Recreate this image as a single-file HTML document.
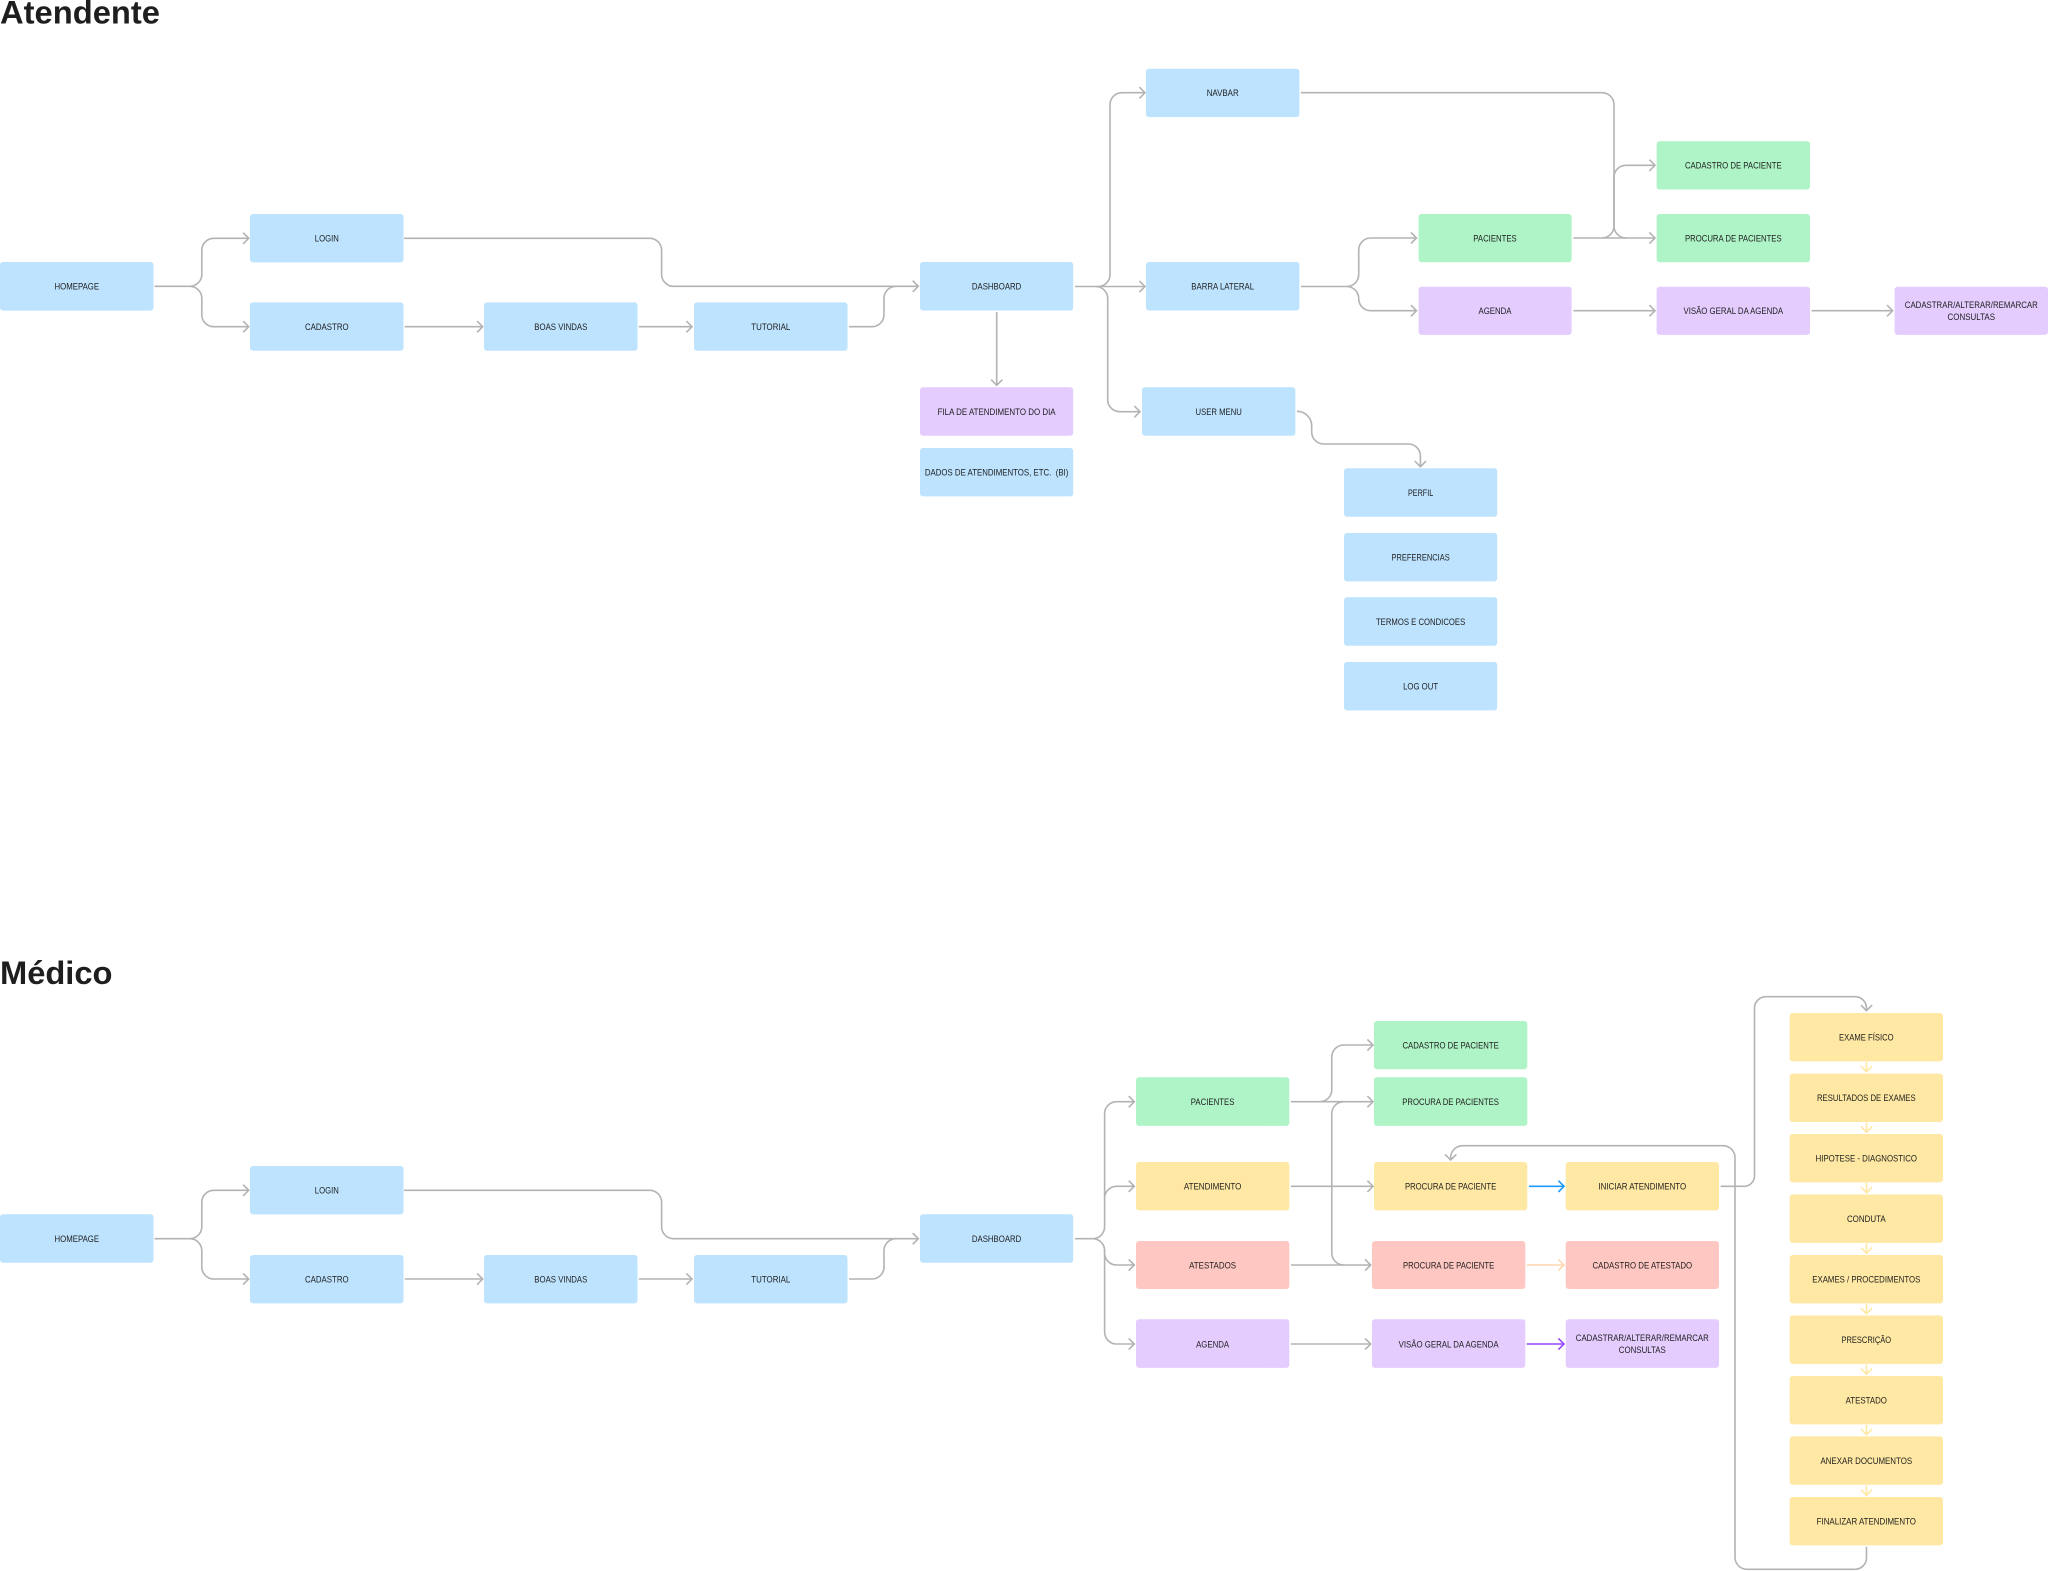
<!DOCTYPE html>
<html lang="pt"><head><meta charset="utf-8"><title>Fluxos</title>
<style>
html,body{margin:0;padding:0;background:#fff;width:2048px;height:1571px;overflow:hidden}
svg{display:block}
text{font-family:"Liberation Sans",sans-serif;fill:#1e1e1e}
.l{font-size:9.3px;text-anchor:middle;white-space:pre}
.t{font-size:32.5px;font-weight:700}
.c{fill:none;stroke:#b3b3b3;stroke-width:1.6;marker-end:url(#g)}
.n{fill:none;stroke:#b3b3b3;stroke-width:1.6}
.y{fill:none;stroke:#ffe8a3;stroke-width:1.6;marker-end:url(#my)}
.b{fill:#bde3ff}.v{fill:#e4ccff}.e{fill:#aff4c6}.a{fill:#ffe8a3}.r{fill:#ffc7c2}
</style></head><body>
<svg xmlns="http://www.w3.org/2000/svg" width="2048" height="1571" viewBox="0 0 2048 1571">
<defs>
<marker id="g" markerUnits="userSpaceOnUse" markerWidth="14" markerHeight="14" refX="8" refY="7" orient="auto"><path d="M2.4 1.4L8 7L2.4 12.6" fill="none" stroke="#b3b3b3" stroke-width="1.6"/></marker>
<marker id="my" markerUnits="userSpaceOnUse" markerWidth="14" markerHeight="14" refX="8" refY="7" orient="auto"><path d="M2.4 1.4L8 7L2.4 12.6" fill="none" stroke="#ffe8a3" stroke-width="1.6"/></marker>
<marker id="mb" markerUnits="userSpaceOnUse" markerWidth="14" markerHeight="14" refX="8" refY="7" orient="auto"><path d="M2.4 1.4L8 7L2.4 12.6" fill="none" stroke="#1e9bff" stroke-width="1.6"/></marker>
<marker id="mp" markerUnits="userSpaceOnUse" markerWidth="14" markerHeight="14" refX="8" refY="7" orient="auto"><path d="M2.4 1.4L8 7L2.4 12.6" fill="none" stroke="#ffd6ae" stroke-width="1.6"/></marker>
<marker id="mv" markerUnits="userSpaceOnUse" markerWidth="14" markerHeight="14" refX="8" refY="7" orient="auto"><path d="M2.4 1.4L8 7L2.4 12.6" fill="none" stroke="#9747ff" stroke-width="1.6"/></marker>
</defs>
<rect width="2048" height="1571" fill="#fff"/>

<text class="t" x="0" y="23.3" textLength="160" lengthAdjust="spacingAndGlyphs">Atendente</text>
<text class="t" x="0" y="984" textLength="112.5" lengthAdjust="spacingAndGlyphs">Médico</text>

<!-- Atendente connectors -->
<path class="c" d="M154.5 286.3H190A12 12 0 0 0 201.8 274V250A12 12 0 0 1 214 238.3H248.7"/>
<path class="c" d="M190 286.3A12 12 0 0 1 201.8 298V315A12 12 0 0 0 214 326.7H248.7"/>
<path class="c" d="M404 238.3H650A12 12 0 0 1 661.6 250V274.5A12 12 0 0 0 674 286.3H918.3"/>
<path class="c" d="M404.8 326.7H482.7"/>
<path class="c" d="M638.8 326.7H692"/>
<path class="n" d="M849 326.7H872A12 12 0 0 0 884 315V298A12 12 0 0 1 896 286.3"/>
<path class="c" d="M1075 286.5H1145"/>
<path class="c" d="M1098 286.5A12 12 0 0 0 1110 274V105A12 12 0 0 1 1122 92.7H1145"/>
<path class="c" d="M1096 286.5A12 12 0 0 1 1107.7 298V399.5A12 12 0 0 0 1120 411.7H1140"/>
<path class="c" d="M996.7 312V385.3"/>
<path class="c" d="M1297 411.3A14.7 14.7 0 0 1 1311.7 426V432A12 12 0 0 0 1324 444H1408A12 12 0 0 1 1420.4 456V466.7"/>
<path class="n" d="M1301 92.7H1602A12 12 0 0 1 1614 105V226A12 12 0 0 0 1626 238"/>
<path class="c" d="M1573.5 238H1655"/>
<path class="c" d="M1602 238A12 12 0 0 0 1614 226V177A12 12 0 0 1 1626 165.3H1655"/>
<path class="c" d="M1301 286.5H1347A12 12 0 0 0 1358.7 274.5V250A12 12 0 0 1 1371 238H1416.5"/>
<path class="c" d="M1347 286.5A12 12 0 0 1 1358.7 298V299A12 12 0 0 0 1371 310.7H1416.5"/>
<path class="c" d="M1573.5 310.7H1655"/>
<path class="c" d="M1811.6 310.7H1892.6"/>

<!-- Atendente nodes -->
<g>
<rect class="b" x="0" y="262" width="153.5" height="48.6" rx="3"/>
<rect class="b" x="250" y="214" width="153.5" height="48.4" rx="3"/>
<rect class="b" x="250" y="302.4" width="153.5" height="48.4" rx="3"/>
<rect class="b" x="484" y="302.4" width="153.5" height="48.4" rx="3"/>
<rect class="b" x="694" y="302.4" width="153.5" height="48.4" rx="3"/>
<rect class="b" x="920" y="262" width="153.2" height="48.5" rx="3"/>
<rect class="b" x="1146" y="68.7" width="153.4" height="48.4" rx="3"/>
<rect class="b" x="1146" y="262" width="153.4" height="48.5" rx="3"/>
<rect class="b" x="1142" y="387.3" width="153.4" height="48.4" rx="3"/>
<rect class="v" x="920" y="387.3" width="153.2" height="48.4" rx="3"/>
<rect class="b" x="920" y="448" width="153.2" height="48.4" rx="3"/>
<rect class="b" x="1344" y="468.3" width="153.2" height="48.4" rx="3"/>
<rect class="b" x="1344" y="533" width="153.2" height="48.4" rx="3"/>
<rect class="b" x="1344" y="597.3" width="153.2" height="48.4" rx="3"/>
<rect class="b" x="1344" y="662" width="153.2" height="48.4" rx="3"/>
<rect class="e" x="1418.6" y="214" width="153" height="48.2" rx="3"/>
<rect class="v" x="1418.6" y="286.7" width="153" height="48.2" rx="3"/>
<rect class="e" x="1656.6" y="141.3" width="153.4" height="48.2" rx="3"/>
<rect class="e" x="1656.6" y="214" width="153.4" height="48.2" rx="3"/>
<rect class="v" x="1656.6" y="286.7" width="153.4" height="48.2" rx="3"/>
<rect class="v" x="1894.6" y="286.7" width="153.4" height="48.2" rx="3"/>
</g>
<g>
<text class="l" x="76.8" y="289.6" textLength="44.6" lengthAdjust="spacingAndGlyphs">HOMEPAGE</text>
<text class="l" x="326.8" y="241.5" textLength="24" lengthAdjust="spacingAndGlyphs">LOGIN</text>
<text class="l" x="326.8" y="330" textLength="43.7" lengthAdjust="spacingAndGlyphs">CADASTRO</text>
<text class="l" x="560.8" y="330" textLength="53" lengthAdjust="spacingAndGlyphs">BOAS VINDAS</text>
<text class="l" x="770.8" y="330" textLength="39" lengthAdjust="spacingAndGlyphs">TUTORIAL</text>
<text class="l" x="996.6" y="289.6" textLength="49.4" lengthAdjust="spacingAndGlyphs">DASHBOARD</text>
<text class="l" x="1222.7" y="96" textLength="32" lengthAdjust="spacingAndGlyphs">NAVBAR</text>
<text class="l" x="1222.7" y="289.6" textLength="62.8" lengthAdjust="spacingAndGlyphs">BARRA LATERAL</text>
<text class="l" x="1218.7" y="414.8" textLength="46.3" lengthAdjust="spacingAndGlyphs">USER MENU</text>
<text class="l" x="996.6" y="414.8" textLength="118" lengthAdjust="spacingAndGlyphs">FILA DE ATENDIMENTO DO DIA</text>
<text class="l" x="996.6" y="475.5" textLength="143.5" lengthAdjust="spacingAndGlyphs">DADOS DE ATENDIMENTOS, ETC.  (BI)</text>
<text class="l" x="1420.6" y="495.8" textLength="25.3" lengthAdjust="spacingAndGlyphs">PERFIL</text>
<text class="l" x="1420.6" y="560.3" textLength="58.3" lengthAdjust="spacingAndGlyphs">PREFERENCIAS</text>
<text class="l" x="1420.6" y="624.8" textLength="89.3" lengthAdjust="spacingAndGlyphs">TERMOS E CONDICOES</text>
<text class="l" x="1420.6" y="689.3" textLength="35" lengthAdjust="spacingAndGlyphs">LOG OUT</text>
<text class="l" x="1495" y="241.4" textLength="43.4" lengthAdjust="spacingAndGlyphs">PACIENTES</text>
<text class="l" x="1495" y="314" textLength="33" lengthAdjust="spacingAndGlyphs">AGENDA</text>
<text class="l" x="1733.3" y="168.7" textLength="96.7" lengthAdjust="spacingAndGlyphs">CADASTRO DE PACIENTE</text>
<text class="l" x="1733.3" y="241.4" textLength="96.7" lengthAdjust="spacingAndGlyphs">PROCURA DE PACIENTES</text>
<text class="l" x="1733.3" y="314" textLength="99.6" lengthAdjust="spacingAndGlyphs">VISÃO GERAL DA AGENDA</text>
<text class="l" x="1971.3" y="308" textLength="133" lengthAdjust="spacingAndGlyphs">CADASTRAR/ALTERAR/REMARCAR</text>
<text class="l" x="1971.3" y="320" textLength="47.5" lengthAdjust="spacingAndGlyphs">CONSULTAS</text>
</g>

<!-- Médico connectors -->
<path class="c" d="M154.5 1238.7H190A12 12 0 0 0 201.8 1227V1202A12 12 0 0 1 214 1190.3H248.7"/>
<path class="c" d="M190 1238.7A12 12 0 0 1 201.8 1250V1267A12 12 0 0 0 214 1279H248.7"/>
<path class="c" d="M404 1190.3H650A12 12 0 0 1 661.6 1202V1227A12 12 0 0 0 674 1238.7H918.3"/>
<path class="c" d="M404.8 1279H482.7"/>
<path class="c" d="M638.8 1279H692"/>
<path class="n" d="M849 1279H872A12 12 0 0 0 884 1267V1250A12 12 0 0 1 896 1238.7"/>
<path class="c" d="M1075 1238.7H1093A12 12 0 0 0 1104.6 1227V1114A12 12 0 0 1 1117 1101.7H1134.3"/>
<path class="c" d="M1104.6 1198A12 12 0 0 1 1117 1186.3H1134.3"/>
<path class="c" d="M1093 1238.7A12 12 0 0 1 1104.6 1250V1253A12 12 0 0 0 1117 1265H1134.3"/>
<path class="c" d="M1104.6 1250V1332A12 12 0 0 0 1117 1344H1134.3"/>
<path class="c" d="M1291 1101.7H1373"/>
<path class="c" d="M1320 1101.7A12 12 0 0 0 1331.8 1090V1057A12 12 0 0 1 1344 1045H1373"/>
<path class="n" d="M1344 1101.7A12 12 0 0 0 1331.8 1114V1253A12 12 0 0 0 1344 1265"/>
<path class="c" d="M1291 1186.3H1373"/>
<path class="c" d="M1291 1265H1370.7"/>
<path class="c" d="M1291 1344H1370.7"/>
<path fill="none" stroke="#1e9bff" stroke-width="1.6" marker-end="url(#mb)" d="M1529 1186.3H1564"/>
<path fill="none" stroke="#ffd6ae" stroke-width="1.6" marker-end="url(#mp)" d="M1526.7 1265H1564"/>
<path fill="none" stroke="#9747ff" stroke-width="1.6" marker-end="url(#mv)" d="M1526.7 1344H1564"/>
<path class="c" d="M1720.7 1186.3H1744A10.5 10.5 0 0 0 1754.5 1176V1008A11.5 11.5 0 0 1 1766 996.7H1855A11.5 11.5 0 0 1 1866.5 1008V1010.7"/>
<path class="c" d="M1866.5 1546.7V1558A11.5 11.5 0 0 1 1855 1569.3H1747A12 12 0 0 1 1735 1558V1158A12 12 0 0 0 1723 1145.7H1463A12 12 0 0 0 1450.7 1158V1160"/>
<path class="y" d="M1866.5 1062V1071.7"/>
<path class="y" d="M1866.5 1122.5V1132.2"/>
<path class="y" d="M1866.5 1183V1192.7"/>
<path class="y" d="M1866.5 1243.5V1253.2"/>
<path class="y" d="M1866.5 1304V1313.7"/>
<path class="y" d="M1866.5 1364.5V1374.2"/>
<path class="y" d="M1866.5 1425V1434.7"/>
<path class="y" d="M1866.5 1485.5V1495.2"/>

<!-- Médico nodes -->
<g>
<rect class="b" x="0" y="1214.3" width="153.5" height="48.4" rx="3"/>
<rect class="b" x="250" y="1166" width="153.5" height="48.4" rx="3"/>
<rect class="b" x="250" y="1255" width="153.5" height="48.4" rx="3"/>
<rect class="b" x="484" y="1255" width="153.5" height="48.4" rx="3"/>
<rect class="b" x="694" y="1255" width="153.5" height="48.4" rx="3"/>
<rect class="b" x="920" y="1214.3" width="153.2" height="48.4" rx="3"/>
<rect class="e" x="1136" y="1077.3" width="153.3" height="48.6" rx="3"/>
<rect class="a" x="1136" y="1162" width="153.3" height="48.4" rx="3"/>
<rect class="r" x="1136" y="1241" width="153.3" height="48" rx="3"/>
<rect class="v" x="1136" y="1319.3" width="153.3" height="48.6" rx="3"/>
<rect class="e" x="1374" y="1021" width="153.3" height="48.3" rx="3"/>
<rect class="e" x="1374" y="1077.3" width="153.3" height="48.6" rx="3"/>
<rect class="a" x="1374" y="1162" width="153.3" height="48.4" rx="3"/>
<rect class="r" x="1372" y="1241" width="153.3" height="48" rx="3"/>
<rect class="v" x="1372" y="1319.3" width="153.3" height="48.6" rx="3"/>
<rect class="a" x="1565.7" y="1162" width="153.3" height="48.4" rx="3"/>
<rect class="r" x="1565.7" y="1241" width="153.3" height="48" rx="3"/>
<rect class="v" x="1565.7" y="1319.3" width="153.3" height="48.6" rx="3"/>
<rect class="a" x="1789.7" y="1013" width="153.3" height="48.4" rx="3"/>
<rect class="a" x="1789.7" y="1073.6" width="153.3" height="48.4" rx="3"/>
<rect class="a" x="1789.7" y="1134" width="153.3" height="48.4" rx="3"/>
<rect class="a" x="1789.7" y="1194.5" width="153.3" height="48.4" rx="3"/>
<rect class="a" x="1789.7" y="1255" width="153.3" height="48.4" rx="3"/>
<rect class="a" x="1789.7" y="1315.5" width="153.3" height="48.4" rx="3"/>
<rect class="a" x="1789.7" y="1376" width="153.3" height="48.4" rx="3"/>
<rect class="a" x="1789.7" y="1436.4" width="153.3" height="48.4" rx="3"/>
<rect class="a" x="1789.7" y="1497" width="153.3" height="48.4" rx="3"/>
</g>
<g>
<text class="l" x="76.8" y="1241.9" textLength="44.6" lengthAdjust="spacingAndGlyphs">HOMEPAGE</text>
<text class="l" x="326.8" y="1193.6" textLength="24" lengthAdjust="spacingAndGlyphs">LOGIN</text>
<text class="l" x="326.8" y="1282.4" textLength="43.7" lengthAdjust="spacingAndGlyphs">CADASTRO</text>
<text class="l" x="560.8" y="1282.4" textLength="53" lengthAdjust="spacingAndGlyphs">BOAS VINDAS</text>
<text class="l" x="770.8" y="1282.4" textLength="39" lengthAdjust="spacingAndGlyphs">TUTORIAL</text>
<text class="l" x="996.6" y="1242" textLength="49.4" lengthAdjust="spacingAndGlyphs">DASHBOARD</text>
<text class="l" x="1212.6" y="1105" textLength="43.6" lengthAdjust="spacingAndGlyphs">PACIENTES</text>
<text class="l" x="1212.6" y="1189.6" textLength="57.5" lengthAdjust="spacingAndGlyphs">ATENDIMENTO</text>
<text class="l" x="1212.6" y="1268.3" textLength="47" lengthAdjust="spacingAndGlyphs">ATESTADOS</text>
<text class="l" x="1212.6" y="1347.3" textLength="33" lengthAdjust="spacingAndGlyphs">AGENDA</text>
<text class="l" x="1450.6" y="1048.3" textLength="96.3" lengthAdjust="spacingAndGlyphs">CADASTRO DE PACIENTE</text>
<text class="l" x="1450.6" y="1105" textLength="96.7" lengthAdjust="spacingAndGlyphs">PROCURA DE PACIENTES</text>
<text class="l" x="1450.6" y="1189.6" textLength="91.3" lengthAdjust="spacingAndGlyphs">PROCURA DE PACIENTE</text>
<text class="l" x="1448.6" y="1268.3" textLength="91.3" lengthAdjust="spacingAndGlyphs">PROCURA DE PACIENTE</text>
<text class="l" x="1448.6" y="1347.3" textLength="100" lengthAdjust="spacingAndGlyphs">VISÃO GERAL DA AGENDA</text>
<text class="l" x="1642.3" y="1189.6" textLength="87.7" lengthAdjust="spacingAndGlyphs">INICIAR ATENDIMENTO</text>
<text class="l" x="1642.3" y="1268.3" textLength="99.7" lengthAdjust="spacingAndGlyphs">CADASTRO DE ATESTADO</text>
<text class="l" x="1642.3" y="1341" textLength="133" lengthAdjust="spacingAndGlyphs">CADASTRAR/ALTERAR/REMARCAR</text>
<text class="l" x="1642.3" y="1353" textLength="47" lengthAdjust="spacingAndGlyphs">CONSULTAS</text>
<text class="l" x="1866.3" y="1040.4" textLength="54.7" lengthAdjust="spacingAndGlyphs">EXAME FÍSICO</text>
<text class="l" x="1866.3" y="1101" textLength="98.7" lengthAdjust="spacingAndGlyphs">RESULTADOS DE EXAMES</text>
<text class="l" x="1866.3" y="1161.4" textLength="101.3" lengthAdjust="spacingAndGlyphs">HIPOTESE - DIAGNOSTICO</text>
<text class="l" x="1866.3" y="1222" textLength="38.7" lengthAdjust="spacingAndGlyphs">CONDUTA</text>
<text class="l" x="1866.3" y="1282.4" textLength="108" lengthAdjust="spacingAndGlyphs">EXAMES / PROCEDIMENTOS</text>
<text class="l" x="1866.3" y="1343" textLength="49.7" lengthAdjust="spacingAndGlyphs">PRESCRIÇÃO</text>
<text class="l" x="1866.3" y="1403.4" textLength="41.3" lengthAdjust="spacingAndGlyphs">ATESTADO</text>
<text class="l" x="1866.3" y="1464" textLength="91.7" lengthAdjust="spacingAndGlyphs">ANEXAR DOCUMENTOS</text>
<text class="l" x="1866.3" y="1524.4" textLength="99.3" lengthAdjust="spacingAndGlyphs">FINALIZAR ATENDIMENTO</text>
</g>
</svg>
</body></html>
